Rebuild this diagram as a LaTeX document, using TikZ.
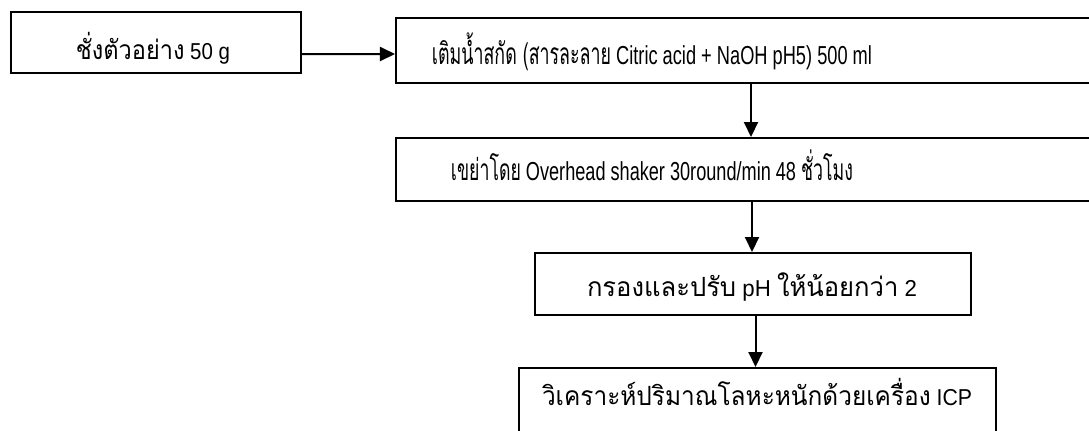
\documentclass[tikz,border=0pt]{standalone}
\usepackage{fontspec}
\setmainfont{Liberation Sans}
\newfontfamily\thaifont[Script=Thai,Scale=1.15]{Loma}
\newcommand{\tht}[1]{{\thaifont #1}}
\newcommand{\thn}[1]{\scalebox{0.85}[1]{\thaifont #1}}
\newcommand{\fitw}[2]{\resizebox{#1}{\height}{#2}}
\usetikzlibrary{arrows.meta,calc}
\tikzset{
  box/.style={draw=black,line width=2bp,rectangle,inner sep=0pt},
  lbl/.style={inner sep=0pt,anchor=base,font=\fontsize{23bp}{27bp}\selectfont},
  nlbl/.style={inner sep=0pt,anchor=base,font=\fontsize{26bp}{30bp}\selectfont},
  arr/.style={line width=2bp,-{Triangle[length=15bp,width=14bp]}}
}
\begin{document}
\begin{tikzpicture}[x=1bp,y=-1bp]
\useasboundingbox (0,0) rectangle (1089,430);
\fill[white] (0,0) rectangle (1089,430);
\clip (0,0) rectangle (1089,430);
\node[box,minimum width=290bp,minimum height=61bp] (b1) at (156,42.5) {};
\node[lbl] (t1) at (153,59) {\fitw{154bp}{\tht{ชั่งตัวอย่าง} 50 g}};
\node[box,minimum width=714bp,minimum height=65bp] (b2) at (753,50.5) {};
\node[nlbl] (t2) at (652,64) {\fitw{440bp}{\thn{เติมน้ำสกัด (สารละลาย} Citric acid + NaOH pH5) 500 ml}};
\node[box,minimum width=714bp,minimum height=63bp] (b3) at (753,169.5) {};
\node[nlbl] (t3) at (652,180) {\fitw{402bp}{\thn{เขย่าโดย} Overhead shaker 30round/min 48 \thn{ชั่วโมง}}};
\node[box,minimum width=436bp,minimum height=62bp] (b4) at (753,284) {};
\node[lbl] (t4) at (752,296) {\fitw{330bp}{\tht{กรองและปรับ} pH \tht{ให้น้อยกว่า} 2}};
\node[box,minimum width=477bp,minimum height=66bp] (b5) at (757.5,401) {};
\node[lbl] (t5) at (757,405) {\fitw{430bp}{\tht{วิเคราะห์ปริมาณโลหะหนักด้วยเครื่อง} ICP}};
\draw[arr] ([yshift=-11.5bp]b1.east) -- ([yshift=-3.5bp]b2.west);
\draw[arr] ([xshift=-2bp]b2.south -| b4) -- ([xshift=-2bp]b3.north -| b4);
\draw[arr] ([xshift=-1bp]b3.south -| b4) -- ([xshift=-1bp]b4.north);
\draw[arr] ([xshift=-2bp]b4.south -| b5) -- ([xshift=-2bp]b5.north);
\end{tikzpicture}
\end{document}
